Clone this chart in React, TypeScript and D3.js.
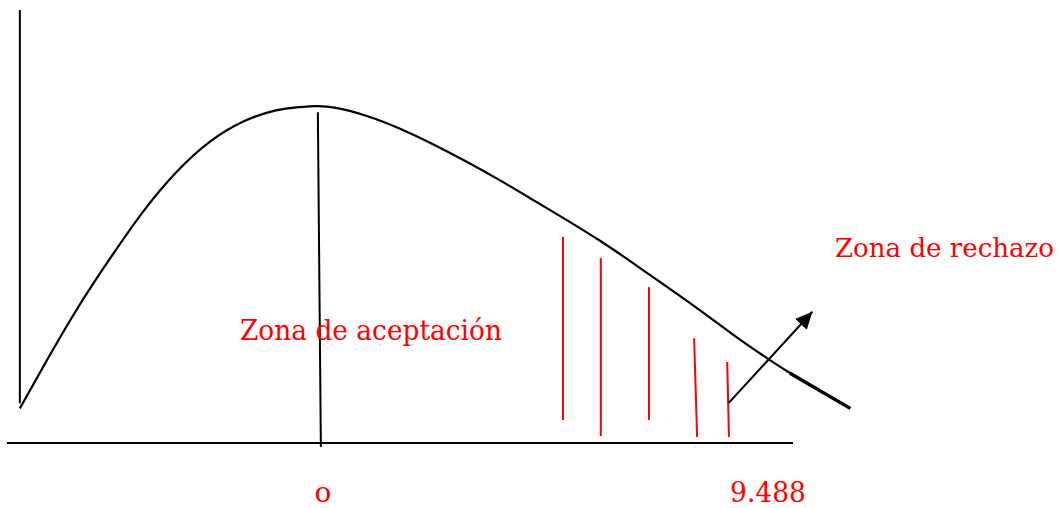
import React from "react";
import * as d3 from "d3";

// curve of the distribution (x in chi-square units, y relative height)
const curveX = [-6.98, -6.44, -5.66, -4.88, -4.11, -3.33, -2.56, -1.78, -1.01, -0.47, -0.08, 0.31, 1.09, 1.86, 2.64, 3.41, 4.19, 4.96, 5.74, 6.51, 7.29, 8.06, 8.84, 9.61, 10.39, 10.93, 11.55, 12.33];
const curveY = [0.08, 0.176, 0.311, 0.427, 0.538, 0.63, 0.7, 0.746, 0.771, 0.776, 0.779, 0.777, 0.757, 0.727, 0.69, 0.65, 0.607, 0.561, 0.515, 0.468, 0.415, 0.361, 0.307, 0.249, 0.196, 0.161, 0.126, 0.08];

// red hatch lines of the rejection area
const hatchX0 = [5.65, 6.53, 7.65, 8.7, 9.47];
const hatchX1 = [5.65, 6.53, 7.65, 8.77, 9.51];
const hatchTop = [0.476, 0.427, 0.36, 0.242, 0.187];
const hatchBottom = [0.053, 0.016, 0.053, 0.014, 0.014];

const critical = 9.488;
const tickLabels = ["o", "9.488"];
const zoneLabels = ["Zona de aceptación", "Zona de rechazo"];

const W = 1060;
const H = 508;

export default function App() {
  const x = d3.scaleLinear().domain([0, critical]).range([320, 728]);
  const y = d3.scaleLinear().domain([0, 1]).range([443, 10]);

  const pts: [number, number][] = curveX.map((v, i) => [v, curveY[i]]);
  const line = d3
    .line<[number, number]>()
    .x((d) => x(d[0]))
    .y((d) => y(d[1]))
    .curve(d3.curveBasis);

  const font = "'DejaVu Serif', serif";

  return (
    <svg width={W} height={H} style={{ position: "absolute", left: 0, top: 0, background: "#fff" }}>
      <defs>
        <marker id="head" markerUnits="userSpaceOnUse" markerWidth="20" markerHeight="18" refX="17" refY="8" orient="auto">
          <path d="M0,0 L17,8 L0,16 Z" fill="#000" />
        </marker>
      </defs>

      {/* axes */}
      <line x1={x(-6.98)} x2={x(-6.98)} y1={y(1)} y2={y(0.092)} stroke="#000" strokeWidth={2} />
      <line x1={x(-7.28)} x2={x(11)} y1={y(0)} y2={y(0)} stroke="#000" strokeWidth={2} />

      {/* middle line */}
      <line x1={x(-0.05)} x2={x(0.02)} y1={y(0.764)} y2={y(-0.009)} stroke="#000" strokeWidth={2} />

      {/* density curve */}
      <path d={line(pts) ?? ""} fill="none" stroke="#000" strokeWidth={2.2} />
      <line x1={x(10.93)} x2={x(12.33)} y1={y(0.161)} y2={y(0.08)} stroke="#000" strokeWidth={3.4} />

      {/* rejection hatch */}
      {hatchX0.map((v, i) => (
        <line key={i} x1={x(v)} x2={x(hatchX1[i])} y1={y(hatchTop[i])} y2={y(hatchBottom[i])} stroke="#ff0000" strokeWidth={2} />
      ))}

      {/* arrow */}
      <line x1={x(9.5)} y1={y(0.092)} x2={x(11.45)} y2={y(0.303)} stroke="#000" strokeWidth={2} markerEnd="url(#head)" />

      {/* labels */}
      <text x={x(0.07)} y={502} textAnchor="middle" fill="#ff0000" fontFamily={font} fontSize={28}>
        {tickLabels[0]}
      </text>
      <text x={x(critical) + 2} y={502} fill="#ff0000" fontFamily={font} fontSize={28} textLength={76} lengthAdjust="spacingAndGlyphs">
        {tickLabels[1]}
      </text>
      <text x={240} y={340} fill="#ff0000" fontFamily={font} fontSize={28.5} textLength={262} lengthAdjust="spacingAndGlyphs">
        {zoneLabels[0]}
      </text>
      <text x={835} y={257} fill="#ff0000" fontFamily={font} fontSize={26.5} textLength={219} lengthAdjust="spacingAndGlyphs">
        {zoneLabels[1]}
      </text>
    </svg>
  );
}
